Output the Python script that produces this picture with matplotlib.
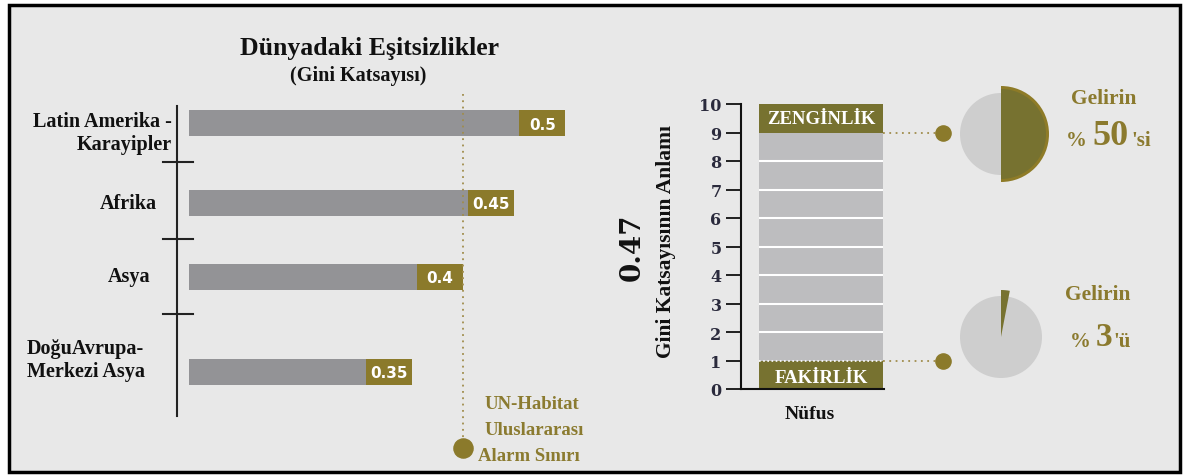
import matplotlib.pyplot as plt
from matplotlib.patches import Rectangle

regions = ['Latin Amerika -\nKarayipler', 'Afrika', 'Asya', 'DoğuAvrupa-\nMerkezi Asya']
gini = [0.5, 0.45, 0.4, 0.35]
alarm_limit = 0.4
gini_example = 0.47
deciles = list(range(1, 11))
scale_ticks = list(range(0, 11))
income_top = 50      # share of income held by richest 10 %
income_bottom = 3    # share of income held by poorest 10 %

# colours
BG = '#e8e8e8'
BAR_GRAY = '#939396'
GOLD = '#8b7a2b'
OLIVE = '#777230'
DECILE_GRAY = '#bdbdbf'
PIE_GRAY = '#cecece'
SERIF = 'Liberation Serif'

W, H = 1185, 477
fig = plt.figure(figsize=(W / 100, H / 100), dpi=100, facecolor='white')


def box(x0, y0, x1, y1):
    # pixel box (top-left origin) -> figure fraction
    return [x0 / W, 1 - y1 / H, (x1 - x0) / W, (y1 - y0) / H]


# background / decoration layer in pixel coordinates
bg = fig.add_axes([0, 0, 1, 1])
bg.set_xlim(0, W)
bg.set_ylim(H, 0)
bg.axis('off')
bg.add_patch(Rectangle((9, 6), 1171, 467, facecolor=BG, edgecolor='black', lw=2.5))

bg.text(370, 48, 'Dünyadaki Eşitsizlikler', family=SERIF, weight='bold', size=18.5,
        ha='center', va='center', color='#111111')
bg.text(358, 76, '(Gini Katsayısı)', family=SERIF, weight='bold', size=14.5,
        ha='center', va='center', color='#111111')

# left axis line with separators
bg.plot([177, 177], [107, 417], color='#222222', lw=1.5)
for sy in [163, 240, 315]:
    bg.plot([163, 193], [sy, sy], color='#222222', lw=1.5)

label_y = [134, 204, 277, 361]
label_x = [172, 157, 150, 27]
label_ha = ['right', 'right', 'right', 'left']
for name, x, y, ha in zip(regions, label_x, label_y, label_ha):
    bg.text(x, y, name, family=SERIF, weight='bold', size=14.5, ha=ha, va='center',
            multialignment=ha, linespacing=1.2, color='#111111')

# left bar chart
ax1 = fig.add_axes(box(189, 0, 600, H))
ax1.set_xlim(0.1317, 0.5339)
ax1.set_ylim(H, 0)
ax1.axis('off')
ax1.patch.set_alpha(0)
rows = [124, 204, 277.5, 372.5]
lab_w = 0.045
ax1.barh(rows, gini, height=26, color=BAR_GRAY)
ax1.barh(rows, [lab_w] * len(gini), left=[g - lab_w for g in gini], height=26, color=GOLD)
for r, g in zip(rows, gini):
    ax1.text(g - lab_w / 2, r + 1, f'{g:g}', color='white', weight='bold', size=11,
             ha='center', va='center', family='DejaVu Sans')
ax1.plot([alarm_limit, alarm_limit], [95, 440], ls=(0, (1, 2.5)), color='#a08d4c', lw=1.3)
ax1.scatter([alarm_limit], [449], s=190, color=GOLD, clip_on=False, zorder=3)

for y, s, x in [(405, 'UN-Habitat', 485), (431, 'Uluslararası', 485), (457, 'Alarm Sınırı', 478)]:
    bg.text(x, y, s, family=SERIF, weight='bold', size=13.5, color='#8b7b30', ha='left', va='center')

# right: population deciles
ax2 = fig.add_axes(box(741, 105, 884, 390))
ax2.set_ylim(0, 10)
ax2.set_xlim(0, 143)
ax2.patch.set_alpha(0)
for d in deciles:
    colour = OLIVE if d in (1, 10) else DECILE_GRAY
    ax2.bar(80, 1, bottom=d - 1, width=124, color=colour, edgecolor='none')
ax2.hlines(deciles[1:8], 18, 142, color='white', lw=1.5)
for sp in ['top', 'right']:
    ax2.spines[sp].set_visible(False)
for sp in ['left', 'bottom']:
    ax2.spines[sp].set_linewidth(1.5)
    ax2.spines[sp].set_color('#111111')
ax2.set_xticks([])
ax2.set_yticks(scale_ticks)
ax2.tick_params(axis='y', length=11, width=1.3, color='#111111', pad=3,
                labelsize=11.5, labelcolor='#2a2a3c')
for t in ax2.get_yticklabels():
    t.set_family('DejaVu Serif')
    t.set_weight('bold')
ax2.text(80, 9.5, 'ZENGİNLİK', family=SERIF, weight='bold', size=13.5, color='white',
         ha='center', va='center')
ax2.text(80, 0.42, 'FAKİRLİK', family=SERIF, weight='bold', size=13.5, color='white',
         ha='center', va='center')
ax2.plot([18, 142], [1, 1], ls=(0, (1, 1.5)), color='white', lw=1.2)
ax2.plot([142, 199], [9, 9], ls=(0, (1, 2.5)), color='#a08d4c', lw=1.3, clip_on=False)
ax2.plot([142, 199], [1, 1], ls=(0, (1, 2.5)), color='#a08d4c', lw=1.3, clip_on=False)
ax2.scatter([202, 202], [9, 1], s=120, color=GOLD, clip_on=False, zorder=3)

bg.text(632, 247, f'{gini_example:g}', family='DejaVu Serif', weight='bold', size=20,
        rotation=90, ha='center', va='center', color='#111111')
bg.text(666, 242, 'Gini Katsayısının Anlamı', family=SERIF, weight='bold', size=15.5,
        rotation=90, ha='center', va='center', color='#111111')
bg.text(810, 415, 'Nüfus', family=SERIF, weight='bold', size=14,
        ha='center', va='center', color='#111111')

# income pies
ax3 = fig.add_axes(box(941, 75, 1061, 195))
ax3.pie([1], radius=41, colors=[PIE_GRAY])
ax3.pie([income_top, 100 - income_top], radius=48, colors=['#8e7b27', 'none'],
        startangle=90, counterclock=False)
ax3.pie([income_top, 100 - income_top], radius=45, colors=[OLIVE, 'none'],
        startangle=90, counterclock=False)
ax3.set_xlim(-60, 60)
ax3.set_ylim(-60, 60)

ax4 = fig.add_axes(box(941, 278, 1061, 398))
ax4.pie([1], radius=41, colors=[PIE_GRAY])
ax4.pie([income_bottom, 100 - income_bottom], radius=47, colors=[OLIVE, 'none'],
        startangle=90, counterclock=False)
ax4.set_xlim(-60, 60)
ax4.set_ylim(-60, 60)

TXT_GOLD = '#8b7a2e'
bg.text(1104, 99, 'Gelirin', family=SERIF, weight='bold', size=15.5, color=TXT_GOLD,
        ha='center', va='center')
bg.text(1076, 141, '%', family=SERIF, weight='bold', size=15, color=TXT_GOLD, ha='center', va='center')
bg.text(1111, 137, f'{income_top}', family=SERIF, weight='bold', size=26, color=TXT_GOLD,
        ha='center', va='center')
bg.text(1131, 141, "'si", family=SERIF, weight='bold', size=15, color=TXT_GOLD, ha='left', va='center')

bg.text(1098, 295, 'Gelirin', family=SERIF, weight='bold', size=15.5, color=TXT_GOLD,
        ha='center', va='center')
bg.text(1080, 342, '%', family=SERIF, weight='bold', size=15, color=TXT_GOLD, ha='center', va='center')
bg.text(1104, 338, f'{income_bottom}', family=SERIF, weight='bold', size=24, color=TXT_GOLD,
        ha='center', va='center')
bg.text(1113, 342, "'ü", family=SERIF, weight='bold', size=15, color=TXT_GOLD, ha='left', va='center')

fig.savefig('out.png', dpi=100, facecolor='white')
